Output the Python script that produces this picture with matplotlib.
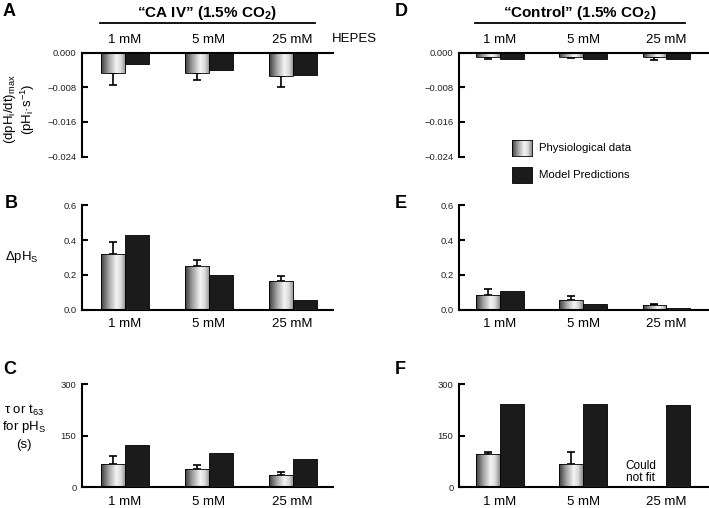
import numpy as np
import matplotlib
matplotlib.use("Agg")
import matplotlib.pyplot as plt
from matplotlib.colors import LinearSegmentedColormap
from matplotlib.lines import Line2D
from matplotlib.patches import Rectangle

plt.rcParams["font.family"] = ["Liberation Sans", "DejaVu Sans"]
plt.rcParams["mathtext.fontset"] = "custom"
plt.rcParams["mathtext.rm"] = "Liberation Sans"
plt.rcParams["mathtext.it"] = "Liberation Sans:italic"
plt.rcParams["mathtext.bf"] = "Liberation Sans:bold"
plt.rcParams["mathtext.default"] = "regular"

HEPES = ["1 mM", "5 mM", "25 mM"]

# "CA IV" column (A, B, C)
ca_rate_phys = [-0.0047, -0.0046, -0.0053]
ca_rate_err = [0.0027, 0.0017, 0.0026]
ca_rate_model = [-0.0027, -0.0040, -0.0052]
ca_dphs_phys = [0.318, 0.251, 0.167]
ca_dphs_err = [0.071, 0.034, 0.029]
ca_dphs_model = [0.431, 0.199, 0.058]
ca_tau_phys = [67.5, 54.0, 35.6]
ca_tau_err = [24.0, 11.5, 8.7]
ca_tau_model = [121.6, 99.3, 81.0]

# "Control" column (D, E, F)
ct_rate_phys = [-0.0011, -0.0011, -0.0011]
ct_rate_err = [0.0003, 0.0002, 0.0005]
ct_rate_model = [-0.0014, -0.0014, -0.0014]
ct_dphs_phys = [0.086, 0.056, 0.027]
ct_dphs_err = [0.033, 0.021, 0.008]
ct_dphs_model = [0.108, 0.033, 0.010]
ct_tau_phys = [97.6, 67.7, np.nan]   # 25 mM: could not fit
ct_tau_err = [4.0, 35.7, np.nan]
ct_tau_model = [241.0, 242.0, 239.0]

W, H = 709, 508
BAR_W = 0.286
MODEL_COLOR = "#1b1b1b"
TEXT_COLOR = "#222222"
CYL = LinearSegmentedColormap.from_list(
    "cyl",
    [(0, "#3a3a3a"), (0.3, "#a0a0a0"), (0.62, "#f5f5f5"), (0.8, "#dadada"), (1, "#8c8c8c")],
)
GRAD = np.linspace(0, 1, 256).reshape(1, -1)


def fx(px):
    return px / W


def fy(py):
    return 1 - py / H


def add_axes(fig, left, right, top, bottom):
    return fig.add_axes([fx(left), fy(bottom), (right - left) / W, (bottom - top) / H])


def draw_bars(ax, phys, err, model):
    x = np.arange(len(HEPES))
    phys = np.asarray(phys, dtype=float)
    ok = ~np.isnan(phys)
    bars = ax.bar(x[ok] - BAR_W / 2, phys[ok], BAR_W, facecolor="none",
                  edgecolor="black", linewidth=0.6, zorder=3)
    for bar in bars:
        x0, y0 = bar.get_x(), bar.get_y()
        w, h = bar.get_width(), bar.get_height()
        im = ax.imshow(GRAD, cmap=CYL, aspect="auto", zorder=2,
                       extent=(x0, x0 + w, min(y0, y0 + h), max(y0, y0 + h)))
        im.set_clip_path(bar)
    ax.bar(x + BAR_W / 2, model, BAR_W, color=MODEL_COLOR, edgecolor="black",
           linewidth=0.6, zorder=3)
    for xi, v, e in zip(x, phys, err):
        if np.isnan(v):
            continue
        yerr = [[0], [e]] if v > 0 else [[e], [0]]
        ax.errorbar(xi - BAR_W / 2, v, yerr=yerr, fmt="none", ecolor="black",
                    elinewidth=1.2, capsize=3, capthick=1.2, zorder=1.5)


def style_axes(ax, ylim, yticks, fmt, xlim, top=False):
    ax.set_xlim(*xlim)
    ax.set_ylim(*ylim)
    ax.set_yticks(yticks)
    ax.set_yticklabels([fmt.format(t).replace("-", "\u2212") for t in yticks])
    ax.set_xticks(range(len(HEPES)))
    ax.set_xticklabels(HEPES)
    ax.spines["right"].set_visible(False)
    for s in ax.spines.values():
        s.set_linewidth(1.5)
    if top:
        ax.spines["bottom"].set_visible(False)
        ax.xaxis.tick_top()
        ax.tick_params(axis="x", length=0, labelsize=9.5, pad=5, colors="black")
    else:
        ax.spines["top"].set_visible(False)
        ax.tick_params(axis="x", length=0, labelsize=9.5, pad=6, colors="black")
    ax.tick_params(axis="y", direction="in", length=4, width=1.5,
                   labelsize=6.8, pad=4, labelcolor=TEXT_COLOR)
    ax.patch.set_visible(False)


def main():
    fig = plt.figure(figsize=(W / 100, H / 100), dpi=100)

    cols = [(82, 333, (-0.51, 2.48)), (459, 708, (-0.49, 2.5))]
    rows = [(52.7, 156.5), (205.3, 309.6), (384.0, 487.3)]

    panels = [
        [(ca_rate_phys, ca_rate_err, ca_rate_model), (ca_dphs_phys, ca_dphs_err, ca_dphs_model),
         (ca_tau_phys, ca_tau_err, ca_tau_model)],
        [(ct_rate_phys, ct_rate_err, ct_rate_model), (ct_dphs_phys, ct_dphs_err, ct_dphs_model),
         (ct_tau_phys, ct_tau_err, ct_tau_model)],
    ]
    scales = [
        ((-0.024, 0), [0, -0.008, -0.016, -0.024], "{:.3f}", True),
        ((0, 0.6), [0, 0.2, 0.4, 0.6], "{:.1f}", False),
        ((0, 300), [0, 150, 300], "{:.0f}", False),
    ]

    for (left, right, xlim), col in zip(cols, panels):
        for (top, bottom), data, (ylim, yticks, fmt, is_top) in zip(rows, col, scales):
            ax = add_axes(fig, left, right, top, bottom)
            draw_bars(ax, *data)
            style_axes(ax, ylim, yticks, fmt, xlim, top=is_top)
            if ax.get_ylim()[1] == 300 and left == 459:
                ax.text(1.69, 45, "Could\nnot fit", ha="center", va="center",
                        fontsize=8.5, linespacing=0.95, zorder=5)

    # panel letters
    for letter, (px, py) in zip("ABCDEF", [(9, 11), (11, 204), (10, 370),
                                           (401, 11), (401, 203), (400, 369)]):
        fig.text(fx(px), fy(py), letter, fontsize=13, fontweight="bold",
                 ha="center", va="center")

    # column headers
    fig.text(fx(207), fy(13), "\u201cCA IV\u201d (1.5% CO$_\\mathbf{2}$)", fontsize=11,
             fontweight="bold", ha="center", va="center")
    fig.text(fx(580), fy(13), "\u201cControl\u201d (1.5% CO$_\\mathbf{2}$)", fontsize=11,
             fontweight="bold", ha="center", va="center")
    fig.add_artist(Line2D([fx(100), fx(315)], [fy(23), fy(23)], color="black", lw=1.3))
    fig.add_artist(Line2D([fx(475), fx(685)], [fy(23), fy(23)], color="black", lw=1.3))
    fig.text(fx(332), fy(39), "HEPES", fontsize=9.5, ha="left", va="center")

    # y labels
    fig.text(fx(10), fy(109), "(dpH$_i$/dt)$_{max}$", fontsize=9.5, rotation=90,
             ha="center", va="center")
    fig.text(fx(28), fy(109), "(pH$_i$\u00b7s$^{-1}$)", fontsize=9.5, rotation=90,
             ha="center", va="center")
    fig.text(fx(22), fy(257), "\u0394pH$_S$", fontsize=9.5, ha="center", va="center")
    fig.text(fx(24), fy(410), "\u03c4 or t$_{63}$", fontsize=9.5, ha="center", va="center")
    fig.text(fx(24), fy(427), "for pH$_S$", fontsize=9.5, ha="center", va="center")
    fig.text(fx(24), fy(445), "(s)", fontsize=9.5, ha="center", va="center")

    # legend
    lax = fig.add_axes([fx(512), fy(156), 20 / W, 16 / H])
    lax.imshow(GRAD, cmap=CYL, aspect="auto")
    lax.set_xticks([])
    lax.set_yticks([])
    for s in lax.spines.values():
        s.set_linewidth(0.6)
    fig.add_artist(Rectangle((fx(512), fy(183)), 20 / W, 16 / H, facecolor=MODEL_COLOR,
                             edgecolor="black", linewidth=0.6))
    fig.text(fx(539), fy(148), "Physiological data", fontsize=8.2, va="center")
    fig.text(fx(539), fy(175), "Model Predictions", fontsize=8.2, va="center")

    fig.savefig("out.png", dpi=100)


if __name__ == "__main__":
    main()
